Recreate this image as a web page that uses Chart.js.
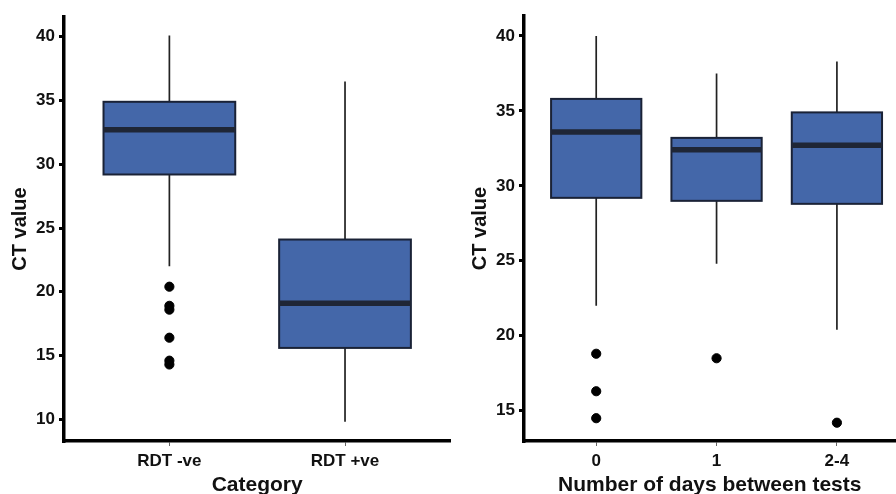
<!DOCTYPE html>
<html>
<head>
<meta charset="utf-8">
<script src="https://cdn.jsdelivr.net/npm/chart.js@4.4.0/dist/chart.umd.min.js"></script>
<style>
    html, body { margin: 0; padding: 0; background: #fff; overflow: hidden; }
    body { width: 896px; height: 494px; position: relative; }
    #leftChart { position: absolute; left: 0; top: 0; }
    #rightChart { position: absolute; left: 452px; top: 0; }
</style>
</head>
<body>
<!-- Chart.js keeps ~5px free on the right of the plot, so the canvases are 5px wider -->
<canvas id="leftChart" width="456" height="500"></canvas>
<canvas id="rightChart" width="449" height="500"></canvas>

<script>
// --------------------------------------------------
//  DATA
// --------------------------------------------------
const categoriesA = ["RDT -ve", "RDT +ve"];
const whiskerLowA = [22.0, 9.8];
const q1A = [29.2, 15.6];
const medianA = [32.7, 19.1];
const q3A = [34.9, 24.1];
const whiskerHighA = [40.1, 36.5];
const outlierCatA = [0, 0, 0, 0, 0, 0];
const outlierValA = [20.4, 18.9, 18.6, 16.4, 14.6, 14.3];
const yTicksA = [10, 15, 20, 25, 30, 35, 40];

const categoriesB = ["0", "1", "2-4"];
const whiskerLowB = [22.0, 24.8, 20.4];
const q1B = [29.2, 29.0, 28.8];
const medianB = [33.6, 32.4, 32.7];
const q3B = [35.8, 33.2, 34.9];
const whiskerHighB = [40.0, 37.5, 38.3];
const outlierCatB = [0, 0, 0, 1, 2];
const outlierValB = [18.8, 16.3, 14.5, 18.5, 14.2];
const yTicksB = [15, 20, 25, 30, 35, 40];

// --------------------------------------------------
//  STYLE
// --------------------------------------------------
const FONT = "'Liberation Sans', Arial, sans-serif";
const BOX_FILL = "#4467a9";
const BOX_EDGE = "#1a2236";
const MEDIAN_COLOR = "#1f2636";
const BOX_WIDTH = 0.75;

// box + whisker drawing, using the chart's own scales
const boxPlugin = {
    id: "boxes",
    beforeDatasetsDraw(chart) {
        const b = chart.options.plugins.boxes;
        const { ctx, scales: { x, y } } = chart;
        ctx.save();
        b.q1.forEach((_, i) => {
            const cx = x.getPixelForValue(i + 1);
            const x0 = x.getPixelForValue(i + 1 - BOX_WIDTH / 2);
            const x1 = x.getPixelForValue(i + 1 + BOX_WIDTH / 2);
            const yLow = y.getPixelForValue(b.low[i]);
            const yQ1 = y.getPixelForValue(b.q1[i]);
            const yMed = y.getPixelForValue(b.median[i]);
            const yQ3 = y.getPixelForValue(b.q3[i]);
            const yHigh = y.getPixelForValue(b.high[i]);

            // whiskers
            ctx.strokeStyle = "#222";
            ctx.lineWidth = 1.7;
            ctx.beginPath();
            ctx.moveTo(cx, yHigh); ctx.lineTo(cx, yQ3);
            ctx.moveTo(cx, yQ1); ctx.lineTo(cx, yLow);
            ctx.stroke();

            // box
            ctx.fillStyle = BOX_FILL;
            ctx.fillRect(x0, yQ3, x1 - x0, yQ1 - yQ3);
            ctx.strokeStyle = BOX_EDGE;
            ctx.lineWidth = 2;
            ctx.strokeRect(x0, yQ3, x1 - x0, yQ1 - yQ3);

            // median
            ctx.strokeStyle = MEDIAN_COLOR;
            ctx.lineWidth = 5.5;
            ctx.beginPath();
            ctx.moveTo(x0, yMed); ctx.lineTo(x1, yMed);
            ctx.stroke();
        });
        ctx.restore();
    }
};

function makeChart(id, cfg) {
    return new Chart(document.getElementById(id), {
        type: "scatter",
        data: {
            datasets: [{
                data: cfg.outCat.map((c, i) => ({ x: c + 1, y: cfg.outVal[i] })),
                backgroundColor: "#000",
                borderColor: "#000",
                pointRadius: 4.6,
                pointHoverRadius: 4.6
            }]
        },
        options: {
            responsive: false,
            animation: false,
            layout: { padding: cfg.padding },
            plugins: {
                legend: { display: false },
                tooltip: { enabled: false },
                boxes: {
                    low: cfg.low, q1: cfg.q1, median: cfg.median,
                    q3: cfg.q3, high: cfg.high
                }
            },
            scales: {
                x: {
                    type: "linear",
                    min: 0.4,
                    max: cfg.xMax,
                    afterBuildTicks: s => { s.ticks = cfg.cats.map((c, i) => ({ value: i + 1 })); },
                    afterFit: s => {
                        s.height = cfg.xAxisHeight;
                        s.paddingLeft = 0;
                        s.paddingRight = 0;
                    },
                    border: { display: true, color: "#000", width: 3.5 },
                    grid: { display: true, drawOnChartArea: false, drawTicks: true, tickLength: 5, color: "#666", lineWidth: 1 },
                    ticks: {
                        padding: 5,
                        color: "#111",
                        maxRotation: 0,
                        font: { family: FONT, size: 17, weight: "bold" },
                        callback: v => cfg.cats[v - 1]
                    },
                    title: {
                        display: true,
                        text: cfg.xTitle,
                        color: "#111",
                        padding: { top: 0, bottom: 2 },
                        font: { family: FONT, size: 21, weight: "bold" }
                    }
                },
                y: {
                    min: cfg.yMin,
                    max: cfg.yMax,
                    afterBuildTicks: s => { s.ticks = cfg.yTicks.map(v => ({ value: v })); },
                    afterFit: s => { s.width = cfg.yAxisWidth; },
                    border: { display: true, color: "#000", width: 3.5 },
                    grid: { display: true, drawOnChartArea: false, drawTicks: true, tickLength: 5, color: "#000", lineWidth: 3 },
                    ticks: {
                        padding: 4,
                        color: "#111",
                        font: { family: FONT, size: 17, weight: "bold" }
                    },
                    title: {
                        display: true,
                        text: "CT value",
                        color: "#111",
                        padding: { top: cfg.yTitlePad, bottom: 0 },
                        font: { family: FONT, size: 20, weight: "bold" }
                    }
                }
            }
        },
        plugins: [boxPlugin]
    });
}

// --------------------------------------------------
//  BUILD BOTH PANELS
// --------------------------------------------------
makeChart("leftChart", {
    cats: categoriesA,
    low: whiskerLowA, q1: q1A, median: medianA, q3: q3A, high: whiskerHighA,
    outCat: outlierCatA, outVal: outlierValA,
    yTicks: yTicksA, yMin: 8.3, yMax: 41.55, xMax: 2.6,
    xTitle: "Category",
    padding: { top: 17, right: 0, left: 0, bottom: 0 },
    yAxisWidth: 64, xAxisHeight: 59, yTitlePad: 8
});

makeChart("rightChart", {
    cats: categoriesB,
    low: whiskerLowB, q1: q1B, median: medianB, q3: q3B, high: whiskerHighB,
    outCat: outlierCatB, outVal: outlierValB,
    yTicks: yTicksB, yMin: 12.98, yMax: 41.33, xMax: 3.486,
    xTitle: "Number of days between tests",
    padding: { top: 16, right: 0, left: 0, bottom: 0 },
    yAxisWidth: 72, xAxisHeight: 59, yTitlePad: 16
});
</script>
</body>
</html>
